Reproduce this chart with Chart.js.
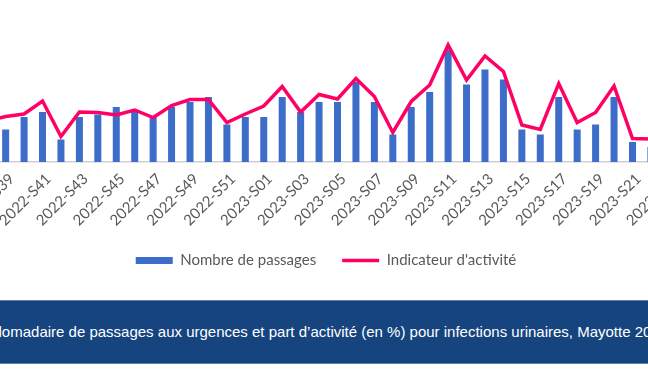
<!DOCTYPE html>
<html lang="fr">
<head>
<meta charset="utf-8">
<title>Passages aux urgences - infections urinaires</title>
<script src="https://cdn.jsdelivr.net/npm/chart.js@4.4.1/dist/chart.umd.min.js"></script>
<style>
    html, body { margin: 0; padding: 0; background: #fff; overflow: hidden; width: 648px; height: 369px; }
    #chartBox { position: absolute; left: -45px; top: 0; width: 742px; height: 278px; }
    #bandeau {
        position: absolute; left: 0; top: 300px; width: 648px; height: 62px;
        background: #15447f; border-top: 1px solid #5f80a8; border-bottom: 1px solid #5f80a8;
        overflow: hidden;
    }
    #legende {
        position: absolute; top: 0; white-space: nowrap; line-height: 62px;
        font-family: "Liberation Sans", Arial, sans-serif; font-size: 15px; color: #fff;
    }
</style>
</head>
<body>
<div id="chartBox"><canvas id="passagesChart"></canvas></div>
<div id="bandeau"><span id="legende">Nombre hebdomadaire de passages aux urgences et part d’activité (en %) pour infections urinaires, Mayotte 2022-2023</span></div>

<script>
// DONNEES (semaines 2022-S38 a 2023-S24, les extremites sont hors cadre)
const semaines = [
    '2022-S38', '2022-S39', '2022-S40', '2022-S41', '2022-S42', '2022-S43', '2022-S44', '2022-S45',
    '2022-S46', '2022-S47', '2022-S48', '2022-S49', '2022-S50', '2022-S51', '2022-S52',
    '2023-S01', '2023-S02', '2023-S03', '2023-S04', '2023-S05', '2023-S06', '2023-S07', '2023-S08',
    '2023-S09', '2023-S10', '2023-S11', '2023-S12', '2023-S13', '2023-S14', '2023-S15', '2023-S16',
    '2023-S17', '2023-S18', '2023-S19', '2023-S20', '2023-S21', '2023-S22', '2023-S23', '2023-S24'
];

// Nombre de passages (barres)
const nbPassages = [
    15, 13, 18, 20, 9, 18, 19, 22, 20, 18, 22, 24, 26, 15, 18,
    18, 26, 20, 24, 24, 32, 24, 11, 22, 28, 45, 31, 37, 33, 13, 11,
    26, 13, 15, 26, 8, 6, 7, 9
];

// Indicateur d'activite en % (ligne)
const indicateurActivite = [
    0.82, 0.91, 0.96, 1.22, 0.51, 1.00, 0.99, 0.94, 1.04, 0.89, 1.13, 1.25, 1.25, 0.79, 0.96,
    1.12, 1.51, 1.00, 1.35, 1.26, 1.67, 1.31, 0.59, 1.21, 1.54, 2.34, 1.64, 2.12, 1.81, 0.74, 0.65,
    1.57, 0.79, 0.99, 1.52, 0.47, 0.46, 0.45, 0.50
];

// Echelles (axes masques)
const maxPassages = 60;
const maxIndicateur = 3;

const FONT = 'Lato';
const GRIS = '#595959';

function createPassagesChart() {
    const ctx = document.getElementById('passagesChart');
    if (!ctx) {
        console.log('Canvas passagesChart introuvable');
        return;
    }

    window.passagesChartInstance = new Chart(ctx.getContext('2d'), {
        data: {
            labels: semaines,
            datasets: [
                {
                    type: 'bar',
                    label: 'Nombre de passages',
                    data: nbPassages,
                    backgroundColor: '#3c6dc8',
                    borderWidth: 0,
                    barPercentage: 0.38,
                    categoryPercentage: 1,
                    pointStyle: 'rect',
                    yAxisID: 'y',
                    order: 2
                },
                {
                    type: 'line',
                    label: "Indicateur d'activité",
                    data: indicateurActivite,
                    borderColor: '#ff0066',
                    backgroundColor: '#ff0066',
                    borderWidth: 3.5,
                    pointRadius: 0,
                    pointStyle: 'line',
                    tension: 0,
                    yAxisID: 'y2',
                    order: 1
                }
            ]
        },
        options: {
            responsive: true,
            maintainAspectRatio: false,
            animation: false,
            layout: { padding: { top: 12, left: 0, right: 0, bottom: 0 } },
            plugins: {
                tooltip: { enabled: false },
                legend: {
                    position: 'bottom',
                    labels: {
                        color: GRIS,
                        font: { family: FONT, size: 15 },
                        usePointStyle: true,
                        pointStyleWidth: 37,
                        boxHeight: 7,
                        padding: 26,
                        sort: (a, b) => a.datasetIndex - b.datasetIndex
                    }
                }
            },
            scales: {
                x: {
                    offset: true,
                    grid: { display: false, drawTicks: false },
                    border: { display: true, color: '#d0d0d0', width: 1.5 },
                    ticks: {
                        autoSkip: false,
                        minRotation: 45,
                        maxRotation: 45,
                        padding: 8,
                        labelOffset: 6,
                        color: GRIS,
                        font: { family: FONT, size: 15 },
                        callback: function(value, index) {
                            // une semaine sur deux, a partir de S39
                            return (index % 2 === 1 && index < semaines.length - 1) ? this.getLabelForValue(value) : '';
                        }
                    },
                    afterFit: (scale) => {
                        scale.height = 65;
                        scale.paddingLeft = 0;
                        scale.paddingRight = 0;
                    }
                },
                y: {
                    position: 'left',
                    min: 0,
                    max: maxPassages,
                    grid: { display: false },
                    border: { display: false },
                    ticks: { display: false },
                    afterFit: (scale) => { scale.width = 23; }
                },
                y2: {
                    display: false,
                    position: 'right',
                    min: 0,
                    max: maxIndicateur
                }
            }
        }
    });
}

function placeLegende() {
    // le debut du titre sort du cadre a gauche
    const el = document.getElementById('legende');
    const c = document.createElement('canvas').getContext('2d');
    c.font = '15px "Liberation Sans"';
    el.style.left = (-c.measureText('Nombre heb').width - 6.5) + 'px';
}

placeLegende();
createPassagesChart();
</script>
</body>
</html>
